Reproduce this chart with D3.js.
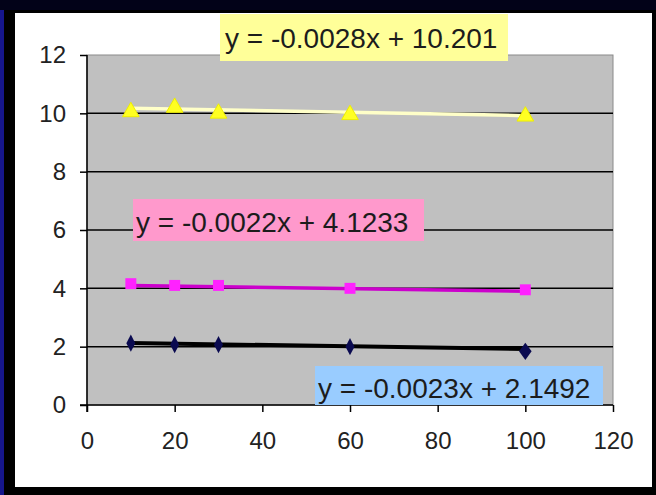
<!DOCTYPE html>
<html>
<head>
<meta charset="utf-8">
<script src="https://cdn.jsdelivr.net/npm/d3@7"></script>
<style>
  html, body { margin: 0; padding: 0; background: #000; }
  svg { display: block; }
  text { font-family: Arial, "Liberation Sans", sans-serif; }
</style>
</head>
<body>
<svg id="chart" width="656" height="495"></svg>
<script>
// Sample x positions shared by all three series
const xValues = [10, 20, 30, 60, 100];

// Measured values per series
const yellowValues  = [10.05, 10.2, 10.0, 9.95, 9.9];
const magentaValues = [4.16, 4.1, 4.1, 4.0, 3.95];
const navyValues    = [2.12, 2.07, 2.07, 2.0, 1.84];

// Linear trendline coefficients (slope, intercept) and their labels
const trendSlopes     = [-0.0028, -0.0022, -0.0023];
const trendIntercepts = [10.201, 4.1233, 2.1492];
const trendLabels = [
  "y = -0.0028x + 10.201",
  "y = -0.0022x + 4.1233",
  "y = -0.0023x + 2.1492"
];

// Axis ticks
const xTicks = [0, 20, 40, 60, 80, 100, 120];
const yTicks = [0, 2, 4, 6, 8, 10, 12];

const svg = d3.select("#chart");

// Frame: dark surround with a blue left edge, white chart area
svg.append("rect").attr("x", 0).attr("y", 0).attr("width", 656).attr("height", 495).attr("fill", "#000");
svg.append("rect").attr("x", 0).attr("y", 0).attr("width", 4).attr("height", 495).attr("fill", "#16168c");
svg.append("rect").attr("x", 0).attr("y", 0).attr("width", 656).attr("height", 10).attr("fill", "#020218");
svg.append("rect").attr("x", 15).attr("y", 13).attr("width", 637).attr("height", 474).attr("fill", "#fff");

const x = d3.scaleLinear().domain([0, 120]).range([87, 613]);
const y = d3.scaleLinear().domain([0, 12]).range([405, 55]);

// Plot area
svg.append("rect")
  .attr("x", x(0)).attr("y", y(12))
  .attr("width", x(120) - x(0)).attr("height", y(0) - y(12))
  .attr("fill", "#c0c0c0").attr("stroke", "#8a8a8a").attr("stroke-width", 1);

// Horizontal gridlines
svg.append("g").selectAll("line")
  .data(yTicks.filter(v => v > 0 && v < 12))
  .join("line")
  .attr("x1", x(0)).attr("x2", x(120))
  .attr("y1", d => y(d)).attr("y2", d => y(d))
  .attr("stroke", "#000").attr("stroke-width", 1.5);

// Axes
const yAxis = svg.append("g")
  .attr("transform", `translate(${x(0)},0)`)
  .call(d3.axisLeft(y).tickValues(yTicks).tickSize(7).tickPadding(14).tickFormat(d3.format("d")));
const xAxis = svg.append("g")
  .attr("transform", `translate(0,${y(0)})`)
  .call(d3.axisBottom(x).tickValues(xTicks).tickSize(7).tickPadding(20).tickFormat(d3.format("d")));

[yAxis, xAxis].forEach(g => {
  g.select(".domain").attr("stroke", "#000").attr("stroke-width", 1.5);
  g.selectAll(".tick line").attr("stroke", "#000").attr("stroke-width", 1.5);
  g.selectAll(".tick text")
    .attr("fill", "#222")
    .style("font-size", "24px")
    .style("font-family", "Arial, 'Liberation Sans', sans-serif");
});
yAxis.select(".domain").attr("d", `M0,${y(12)}V${y(0) + 7}`);
xAxis.select(".domain").attr("d", `M${x(0) - 7},0H${x(120)}`);

// Trendlines
const trendColors = ["#ffffc8", "#cc00cc", "#000000"];
const trendWidths = [3.5, 3.5, 4];
trendSlopes.forEach((m, i) => {
  const b = trendIntercepts[i];
  svg.append("line")
    .attr("x1", x(xValues[0])).attr("y1", y(m * xValues[0] + b))
    .attr("x2", x(xValues[xValues.length - 1])).attr("y2", y(m * xValues[xValues.length - 1] + b))
    .attr("stroke", trendColors[i]).attr("stroke-width", trendWidths[i]);
});

// Yellow triangles
svg.append("g").selectAll("path")
  .data(xValues.map((d, i) => [d, yellowValues[i]]))
  .join("path")
  .attr("transform", d => `translate(${x(d[0])},${y(d[1])})`)
  .attr("d", d3.symbol(d3.symbolTriangle, 120)())
  .attr("fill", "#ffff22").attr("stroke", "#eeee00").attr("stroke-width", 1);

// Magenta squares
svg.append("g").selectAll("path")
  .data(xValues.map((d, i) => [d, magentaValues[i]]))
  .join("path")
  .attr("transform", d => `translate(${x(d[0])},${y(d[1])})`)
  .attr("d", d3.symbol(d3.symbolSquare, 120)())
  .attr("fill", "#ff22ff");

// Navy diamonds
svg.append("g").selectAll("path")
  .data(xValues.map((d, i) => [d, navyValues[i]]))
  .join("path")
  .attr("transform", (d, i) => `translate(${x(d[0])},${y(d[1])}) scale(${i === xValues.length - 1 ? 1.4 : 1},1.1)`)
  .attr("d", d3.symbol(d3.symbolDiamond, 70)())
  .attr("fill", "#0a0a50");

// Equation labels
const labelBoxes = [
  { fill: "#ffff99", x: 220, y: 14, w: 288, h: 47, tx: 225, ty: 48 },
  { fill: "#ff99cc", x: 133, y: 199, w: 291, h: 42, tx: 136, ty: 232 },
  { fill: "#99ccff", x: 315, y: 366, w: 288, h: 39, tx: 318, ty: 398 }
];
trendLabels.forEach((t, i) => {
  const b = labelBoxes[i];
  svg.append("rect").attr("x", b.x).attr("y", b.y).attr("width", b.w).attr("height", b.h).attr("fill", b.fill);
  svg.append("text").attr("x", b.tx).attr("y", b.ty)
    .attr("fill", "#1c1c1c").style("font-size", "28px").text(t);
});
</script>
</body>
</html>
